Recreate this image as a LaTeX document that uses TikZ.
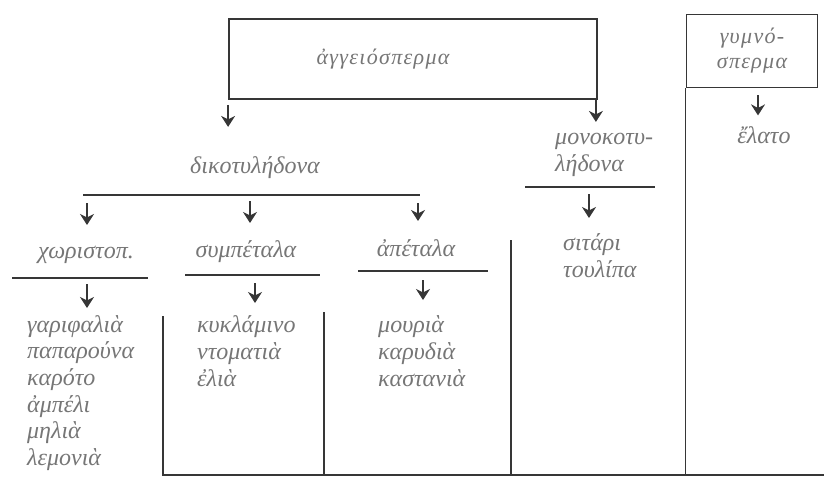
\documentclass[tikz,border=0pt]{standalone}
\usepackage{fontspec}
\setmainfont{Liberation Serif}
\newfontfamily\spacedgreek[LetterSpace=6]{Liberation Serif}
\usetikzlibrary{arrows.meta,positioning}
\definecolor{inkgray}{HTML}{363636}
\definecolor{textgray}{HTML}{767676}

\begin{document}
\begin{tikzpicture}[
x=1pt,
y=-1pt,
every node/.style={
text=textgray,
font=\fontsize{24}{26.7}\selectfont\itshape,
inner sep=0pt,
align=left
},
box/.style={
draw=inkgray,
line width=1.8pt,
font=\spacedgreek\fontsize{22}{25}\selectfont\itshape
},
rule/.style={
draw=inkgray,
line width=1.6pt
},
arrow/.style={
-{Stealth[length=11pt,width=14pt,inset=3.5pt]},
draw=inkgray,
line width=1.5pt
}
]

\useasboundingbox (0,0) rectangle (824,485);

\node[box, minimum width=368pt, minimum height=80pt] (angio) at (413,59)
{\hspace*{-60pt}\raisebox{-4pt}{ἀγγειόσπερμα}};

\node[box, minimum width=131pt, minimum height=73pt] (gymno) at (752,51)
{\begin{tabular}{@{}c@{}}γυμνό-\\σπερμα\end{tabular}};

\node (fir) at (764,135) {ἔλατο};

\node (dikot) at (255,168) {δικοτυλήδονα};

\node[anchor=west] (monok) at (555,155) {μονοκοτυ-\\λήδονα};

\node[anchor=west] (wheat) at (563,256) {σιτάρι\\τουλίπα};

\node (chor) at (86,255) {χωριστοπ.};

\node (symp) at (246,252) {συμπέταλα};

\node (apet) at (416,248) {ἀπέταλα};

\node[anchor=west] (chorlist) at (27,393)
{γαριφαλιὰ\\παπαρούνα\\καρότο\\ἀμπέλι\\μηλιὰ\\λεμονιὰ};

\node[anchor=west] (symplist) at (197,351)
{κυκλάμινο\\ντοματιὰ\\ἐλιὰ};

\node[anchor=west] (apetlist) at (378,351)
{μουριὰ\\καρυδιὰ\\καστανιὰ};

\coordinate (dikL) at (83,195);
\coordinate (dikR) at (420,195);
\coordinate (chorL) at (12,278);
\coordinate (chorR) at (148,278);
\coordinate (sympL) at (185,275);
\coordinate (sympR) at (320,275);
\coordinate (apetL) at (358,271);
\coordinate (apetR) at (488,271);
\coordinate (monoL) at (525,187);
\coordinate (monoR) at (655,187);
\coordinate (bottomL) at (163,475);
\coordinate (bottomR) at (824,475);
\coordinate (sympcol) at (324,312);
\coordinate (monocol) at (511,240);

\draw[rule] (dikL) -- (dikR);
\draw[rule] (chorL) -- (chorR);
\draw[rule] (sympL) -- (sympR);
\draw[rule] (apetL) -- (apetR);
\draw[rule] (monoL) -- (monoR);

\draw[rule] (163,316) -- (bottomL) -- (bottomR);
\draw[rule] (sympcol) -- (sympcol |- bottomL);
\draw[rule] (monocol) -- (monocol |- bottomL);
\draw[rule] (gymno.south west) -- (gymno.south west |- bottomL);

\draw[arrow] (angio.south west) ++(0,5) -- ++(0,22);
\draw[arrow] (angio.south east) ++(-2,-1) -- ++(0,23);
\draw[arrow] (gymno.south) ++(6,7) -- ++(0,20);

\draw[arrow] (chor |- dikL) ++(1,8) -- ++(0,22);
\draw[arrow] (symp |- dikL) ++(4,6) -- ++(0,22);
\draw[arrow] (apet |- dikL) ++(2,8) -- ++(0,18);

\draw[arrow] (chorL) ++(75,6) -- ++(0,24);
\draw[arrow] (sympL) ++(70,8) -- ++(0,20);
\draw[arrow] (apetL) ++(65,9) -- ++(0,20);
\draw[arrow] (monoL) ++(64,7) -- ++(0,24);

\end{tikzpicture}
\end{document}
